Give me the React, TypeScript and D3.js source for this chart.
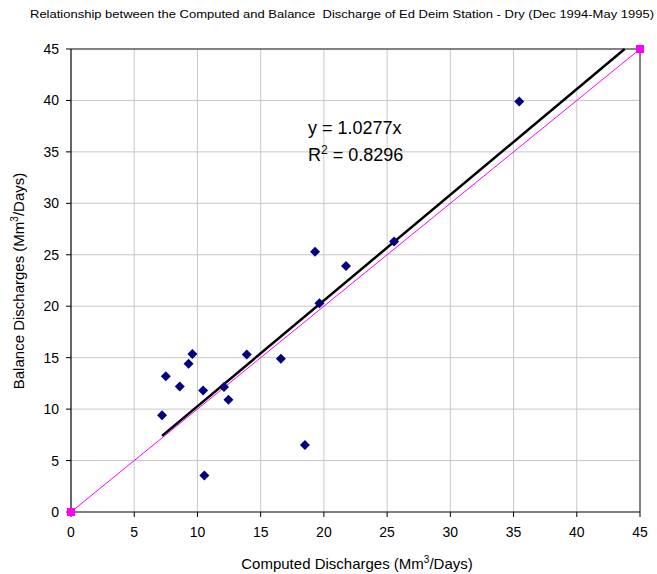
import React from "react";
import * as d3 from "d3";

// Computed vs balance discharge (Mm³/day), Ed Deim station, dry season
const computed = [7.2, 7.5, 8.6, 9.3, 9.6, 10.45, 10.55, 12.1, 12.45, 13.9, 16.6, 18.5, 19.3, 19.65, 21.75, 25.55, 35.45];
const balance = [9.4, 13.2, 12.2, 14.4, 15.35, 11.8, 3.55, 12.15, 10.9, 15.3, 14.9, 6.5, 25.3, 20.3, 23.9, 26.3, 39.9];
const equalityLine = [0, 45];
const slope = 1.0277;
const rSquared = "0.8296";
const ticks = [0, 5, 10, 15, 20, 25, 30, 35, 40, 45];

const title = "Relationship between the Computed and Balance  Discharge of Ed Deim Station - Dry (Dec 1994-May 1995)";

const W = 657;
const H = 574;
const m = { left: 71, right: 17, top: 49, bottom: 62 };
const font = "Arial, 'Liberation Sans', sans-serif";

export default function App() {
  const x = d3.scaleLinear().domain([0, 45]).range([m.left, W - m.right]);
  const y = d3.scaleLinear().domain([0, 45]).range([H - m.bottom, m.top]);

  const xMin = d3.min(computed) as number;
  const xEnd = 45 / slope;
  const trend = d3.line<number>().x((d) => x(d)).y((d) => y(d * slope));
  const diamond = d3.symbol().type(d3.symbolSquare).size(50)();

  return (
    <svg width={W} height={H} style={{ position: "absolute", left: 0, top: 0, background: "#fff" }} fontFamily={font}>
      <text x={30} y={18} fontSize={11.5} textLength={624} lengthAdjust="spacingAndGlyphs" style={{ whiteSpace: "pre" }} fill="#000">{title}</text>

      {/* grid */}
      {ticks.slice(1).map((t) => (
        <line key={"gx" + t} x1={x(t)} x2={x(t)} y1={y(0)} y2={y(45)} stroke="#c8c8c8" strokeWidth={1} />
      ))}
      {ticks.slice(1).map((t) => (
        <line key={"gy" + t} x1={x(0)} x2={x(45)} y1={y(t)} y2={y(t)} stroke="#c8c8c8" strokeWidth={1} />
      ))}
      <line x1={x(0)} x2={x(45)} y1={y(45)} y2={y(45)} stroke="#222" strokeWidth={1} />
      <line x1={x(45)} x2={x(45)} y1={y(0)} y2={y(45)} stroke="#222" strokeWidth={1} />

      {/* axes */}
      <line x1={x(0)} x2={x(45)} y1={y(0)} y2={y(0)} stroke="#000" strokeWidth={1.2} />
      <line x1={x(0)} x2={x(0)} y1={y(0)} y2={y(45)} stroke="#000" strokeWidth={1.2} />
      {ticks.map((t) => (
        <g key={"tx" + t}>
          <line x1={x(t)} x2={x(t)} y1={y(0)} y2={y(0) + 5} stroke="#000" />
          <text x={x(t)} y={y(0) + 25} fontSize={14} textAnchor="middle">{t}</text>
        </g>
      ))}
      {ticks.map((t) => (
        <g key={"ty" + t}>
          <line x1={x(0) - 5} x2={x(0)} y1={y(t)} y2={y(t)} stroke="#000" />
          <text x={x(0) - 12} y={y(t) + 5} fontSize={14} textAnchor="end">{t}</text>
        </g>
      ))}

      <text x={357} y={569} fontSize={15} textAnchor="middle">
        Computed Discharges (Mm<tspan dy={-6} fontSize={10}>3</tspan><tspan dy={6}>/Days)</tspan>
      </text>
      <text transform={`translate(24, ${281}) rotate(-90)`} fontSize={15} textAnchor="middle">
        Balance Discharges (Mm<tspan dy={-6} fontSize={10}>3</tspan><tspan dy={6}>/Days)</tspan>
      </text>

      {/* 1:1 line */}
      <line x1={x(equalityLine[0])} y1={y(equalityLine[0])} x2={x(equalityLine[1])} y2={y(equalityLine[1])} stroke="#ff00ff" strokeWidth={1} />
      {equalityLine.map((v) => (
        <rect key={"eq" + v} x={x(v) - 4} y={y(v) - 4} width={8} height={8} fill="#ff00ff" />
      ))}

      {/* trendline */}
      <path d={trend([xMin, xEnd]) as string} stroke="#000" strokeWidth={2.5} fill="none" />

      {/* observations */}
      {computed.map((c, i) => (
        <path key={"p" + i} d={diamond as string} transform={`translate(${x(c)},${y(balance[i])}) rotate(45)`} fill="#000080" />
      ))}

      <text x={308} y={134} fontSize={18}>y = 1.0277x</text>
      <text x={308} y={161} fontSize={18}>
        R<tspan dy={-7} fontSize={12}>2</tspan><tspan dy={7}> = {rSquared}</tspan>
      </text>
    </svg>
  );
}
